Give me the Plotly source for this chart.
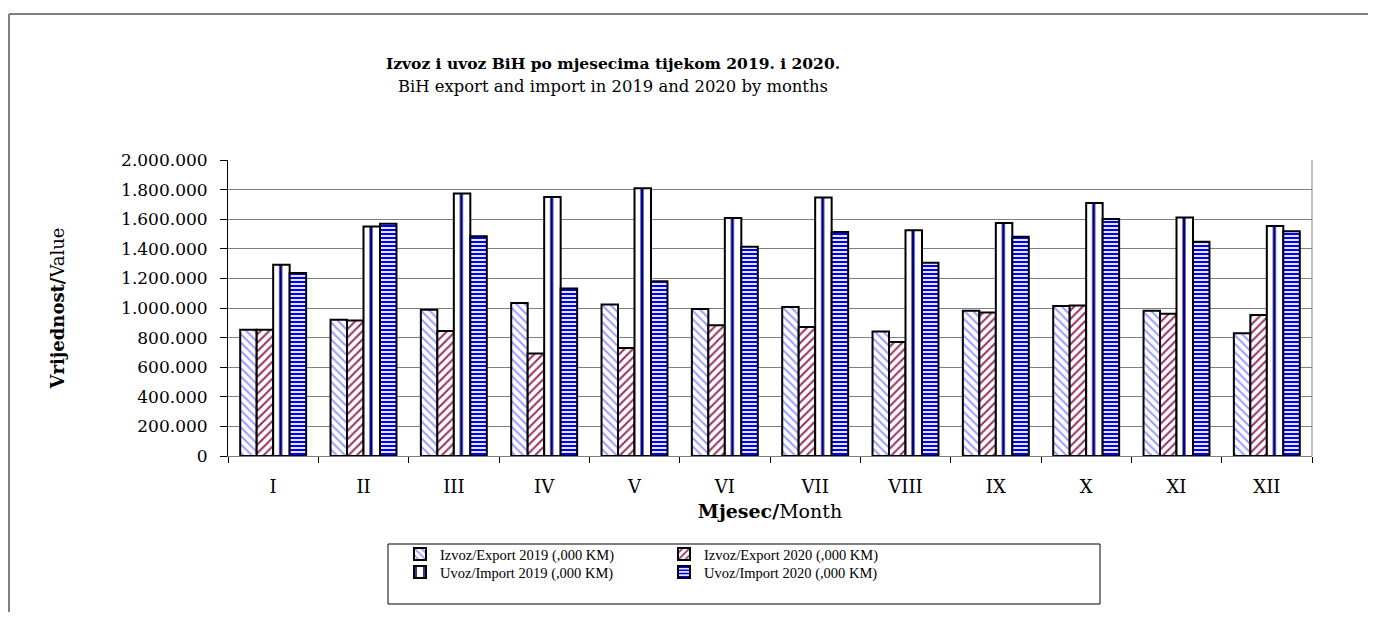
import plotly.graph_objects as go

months = ["I", "II", "III", "IV", "V", "VI", "VII", "VIII", "IX", "X", "XI", "XII"]
export_2019 = [853000, 920000, 988000, 1033000, 1024000, 993000, 1006000, 841000, 981000, 1013000, 981000, 830000]
export_2020 = [853000, 916000, 844000, 693000, 729000, 884000, 871000, 771000, 970000, 1017000, 961000, 952000]
import_2019 = [1293000, 1550000, 1773000, 1750000, 1809000, 1608000, 1746000, 1525000, 1575000, 1710000, 1611000, 1554000]
import_2020 = [1236000, 1570000, 1484000, 1132000, 1180000, 1414000, 1514000, 1306000, 1482000, 1602000, 1448000, 1518000]
y_ticks = [0, 200000, 400000, 600000, 800000, 1000000, 1200000, 1400000, 1600000, 1800000, 2000000]
y_tick_labels = ["0", "200.000", "400.000", "600.000", "800.000", "1.000.000",
                 "1.200.000", "1.400.000", "1.600.000", "1.800.000", "2.000.000"]

FONT = "DejaVu Serif"
LFONT = "Liberation Serif"
W, H = 1360, 604
L, R, T, B = 220, 56, 152, 156
PW, PH = W - L - R, H - T - B


def px(x):
    return (x - L) / PW


def py(y):
    return (H - B - y) / PH


line = dict(color="black", width=2)
fig = go.Figure()
fig.add_trace(go.Bar(
    x=months, y=export_2019, name="Izvoz/Export 2019 (,000 KM)", legend="legend",
    marker=dict(color="white", line=line,
                pattern=dict(shape="\\", fgcolor="#9C9CFF", bgcolor="white", size=6,
                             solidity=0.35, fgopacity=1))))
fig.add_trace(go.Bar(
    x=months, y=export_2020, name="Izvoz/Export 2020 (,000 KM)", legend="legend2",
    marker=dict(color="white", line=line,
                pattern=dict(shape="/", fgcolor="#993366", bgcolor="white", size=6,
                             solidity=0.35, fgopacity=1))))
fig.add_trace(go.Bar(
    x=months, y=import_2019, name="Uvoz/Import 2019 (,000 KM)", legend="legend3",
    marker=dict(color="white", line=line,
                pattern=dict(shape="|", fgcolor="#000080", bgcolor="white", size=PW / 72,
                             solidity=0.2, fgopacity=1))))
fig.add_trace(go.Bar(
    x=months, y=import_2020, name="Uvoz/Import 2020 (,000 KM)", legend="legend4",
    marker=dict(color="white", line=line,
                pattern=dict(shape="-", fgcolor="#0000FF", bgcolor="white", size=4,
                             solidity=0.55, fgopacity=1))))

legend_common = dict(
    orientation="v", bgcolor="rgba(0,0,0,0)", borderwidth=0,
    font=dict(family=LFONT, size=14.5, color="black"),
    xanchor="left", yanchor="top", itemwidth=30, tracegroupgap=0,
)
COL1, COL2 = px(392), px(656)
ROW1, ROW2 = py(530), py(548)

fig.update_layout(
    width=W, height=H,
    margin=dict(l=L, r=R, t=T, b=B, autoexpand=False),
    paper_bgcolor="white", plot_bgcolor="white",
    barmode="group", bargap=0.27, bargroupgap=0,
    font=dict(family=FONT, size=15, color="black"),
    showlegend=True,
    legend=dict(**legend_common, x=COL1, y=ROW1),
    legend2=dict(**legend_common, x=COL2, y=ROW1),
    legend3=dict(**legend_common, x=COL1, y=ROW2),
    legend4=dict(**legend_common, x=COL2, y=ROW2),
    xaxis=dict(
        showline=True, linecolor="#808080", linewidth=1,
        ticks="outside", tickson="boundaries", ticklen=6, tickcolor="black",
        tickfont=dict(family=FONT, size=18), ticklabelstandoff=14, showgrid=False,
        title=dict(text="<b>Mjesec/</b>Month", font=dict(family=FONT, size=19), standoff=9),
    ),
    yaxis=dict(
        range=[0, 2000000], tickvals=y_ticks, ticktext=y_tick_labels,
        showline=True, linecolor="black", linewidth=1,
        ticks="outside", ticklen=7, tickcolor="black",
        tickfont=dict(family=FONT, size=17), ticklabelstandoff=9,
        showgrid=True, gridcolor="#808080", gridwidth=1,
        title=dict(text="<b>Vrijednost/</b>Value", font=dict(family=FONT, size=18), standoff=51),
        zeroline=False,
    ),
    shapes=[
        dict(type="line", xref="paper", yref="paper", x0=px(1), x1=px(1), y0=py(6), y1=py(604),
             line=dict(color="#808080", width=2), layer="below"),
        dict(type="line", xref="paper", yref="paper", x0=px(1), x1=px(1360), y0=py(6), y1=py(6),
             line=dict(color="#808080", width=2), layer="below"),
        dict(type="line", xref="paper", yref="paper", x0=1, x1=1, y0=0, y1=1,
             line=dict(color="#808080", width=1)),
        dict(type="rect", xref="paper", yref="paper", x0=px(380), x1=px(1092), y0=py(536), y1=py(596),
             line=dict(color="black", width=1)),
    ],
    annotations=[
        dict(text="<b>Izvoz i uvoz BiH po mjesecima tijekom 2019. i 2020.</b>", xref="paper", yref="paper",
             x=px(605), y=py(55), xanchor="center", yanchor="middle", showarrow=False,
             font=dict(family=FONT, size=15.5)),
        dict(text="BiH export and import in 2019 and 2020 by months", xref="paper", yref="paper",
             x=px(605), y=py(78), xanchor="center", yanchor="middle", showarrow=False,
             font=dict(family=FONT, size=16.4)),
    ],
)

fig.write_html("out.html")
